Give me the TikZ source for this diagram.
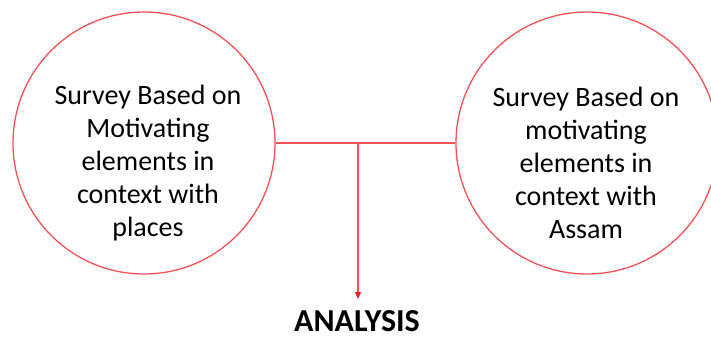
\documentclass[tikz,border=0pt]{standalone}
\usepackage{fontspec}
\setmainfont{Carlito}
\usetikzlibrary{arrows.meta}
\definecolor{ringred}{RGB}{242,82,86}
\definecolor{tipred}{RGB}{235,30,35}
\begin{document}
\begin{tikzpicture}[x=1pt,y=1pt,
  ring/.style={circle,draw=ringred,line width=1.3pt,minimum size=262pt,inner sep=0pt},
  label/.style={align=center,font=\fontsize{28}{33}\selectfont},
  link/.style={draw=ringred,line width=1.3pt}]
  \useasboundingbox (0,0) rectangle (711,338);
  % the two survey circles
  \node[ring] (L) at (144,195) {};
  \node[ring] (R) at (587,195) {};
  \node[label] (Lt) at (148,175) {Survey Based on\\Motivating\\elements in\\context with\\places};
  \node[label] (Rt) at (586,175) {Survey Based on\\motivating\\elements in\\context with\\Assam};
  % joining line and branch down to the result
  \coordinate (J) at (358,195);
  \node[font=\bfseries\fontsize{32}{36}\selectfont,anchor=base,text depth=0pt,inner sep=1pt] (A) at (357,7) {ANALYSIS};
  \coordinate (T) at (358,39);
  \draw[link] (L.east) -- (R.west);
  \draw[link,-{Triangle[width=6pt,length=7pt,color=tipred]}] (J) -- (T);
\end{tikzpicture}
\end{document}
